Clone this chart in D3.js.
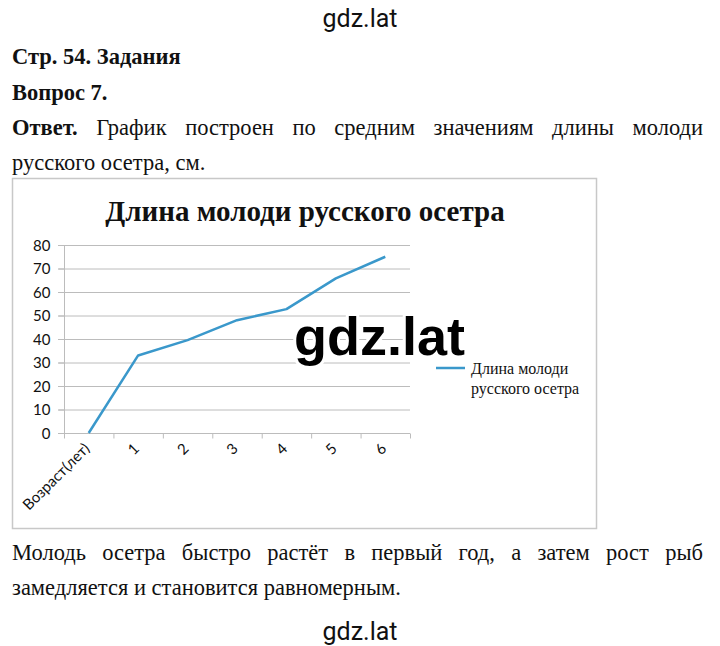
<!DOCTYPE html>
<html><head><meta charset="utf-8">
<script src="https://cdn.jsdelivr.net/npm/d3@7"></script>
<style>body{margin:0;background:#fff}svg{display:block}</style>
</head><body>
<svg id="c" width="720" height="646"></svg>
<script>
const categories = ["Возраст(лет)", "1", "2", "3", "4", "5", "6"];
const lengths = [0, 33, 39.5, 48, 52.7, 65.8, 75];
const yTicks = [0, 10, 20, 30, 40, 50, 60, 70, 80];
const seriesName = ["Длина молоди", "русского осетра"];
const chartTitle = "Длина молоди русского осетра";

const svg = d3.select("#c");
const serif = "'Liberation Serif','Times New Roman',serif";
const sans = "Lato,'Open Sans',sans-serif";
const fs = 22.5;

svg.append("text").attr("x", 360).attr("y", 27).attr("text-anchor", "middle")
  .attr("font-family", "Roboto,'Liberation Sans',sans-serif").attr("font-size", 25).attr("fill", "#111").text("gdz.lat");

svg.append("text").attr("x", 12).attr("y", 64).attr("font-family", serif).attr("font-size", fs).attr("font-weight", "bold").attr("fill", "#111").text("Стр. 54. Задания");
svg.append("text").attr("x", 12).attr("y", 100).attr("font-family", serif).attr("font-size", fs).attr("font-weight", "bold").attr("fill", "#111").text("Вопрос 7.");

function justify(y, words, x0, x1, boldFirst) {
  const g = svg.append("g");
  const nodes = words.map((w, i) => g.append("text").attr("y", y).attr("font-family", serif).attr("font-size", fs)
    .attr("font-weight", (boldFirst && i === 0) ? "bold" : "normal").attr("fill", "#111").text(w));
  const widths = nodes.map(n => n.node().getComputedTextLength());
  const total = d3.sum(widths);
  const gap = (x1 - x0 - total) / (words.length - 1);
  let x = x0;
  nodes.forEach((n, i) => { n.attr("x", x); x += widths[i] + gap; });
}
function plain(y, s) {
  svg.append("text").attr("x", 12).attr("y", y).attr("font-family", serif).attr("font-size", fs).attr("fill", "#111").text(s);
}
justify(135, ["Ответ.", "График", "построен", "по", "средним", "значениям", "длины", "молоди"], 12, 703, true);
plain(170, "русского осетра, см.");
justify(560, ["Молодь", "осетра", "быстро", "растёт", "в", "первый", "год,", "а", "затем", "рост", "рыб"], 12, 703, false);
plain(595, "замедляется и становится равномерным.");

svg.append("text").attr("x", 360).attr("y", 640).attr("text-anchor", "middle")
  .attr("font-family", "Roboto,'Liberation Sans',sans-serif").attr("font-size", 25).attr("fill", "#111").text("gdz.lat");

svg.append("rect").attr("x", 12.5).attr("y", 178.5).attr("width", 584).attr("height", 350)
  .attr("fill", "#fff").attr("stroke", "#c8c8c8").attr("stroke-width", 1.5);

svg.append("text").attr("x", 305).attr("y", 221).attr("text-anchor", "middle")
  .attr("font-family", serif).attr("font-weight", "bold").attr("font-size", 29).attr("fill", "#111").text(chartTitle);

const x = d3.scaleBand().domain(categories).range([64, 410]).padding(0);
const y = d3.scaleLinear().domain([0, 80]).range([433, 245]);
const lineColor = "#3a98cb";

svg.append("g").selectAll("line").data(yTicks).join("line")
  .attr("x1", 58).attr("x2", 410).attr("y1", d => y(d) + 0.5).attr("y2", d => y(d) + 0.5)
  .attr("stroke", "#bcbcbc").attr("stroke-width", 1);

const yAxis = svg.append("g").attr("transform", "translate(64.5,0)")
  .call(d3.axisLeft(y).tickValues(yTicks).tickSize(6).tickPadding(8));
yAxis.select(".domain").attr("stroke", "#bcbcbc").attr("d", `M0,${y(80)}V${y(0)}`);
yAxis.selectAll(".tick line").attr("stroke", "#bcbcbc");
yAxis.selectAll("text").attr("font-family", sans).attr("font-size", 15).attr("fill", "#111").attr("dy", "0.35em");

const xg = svg.append("g").attr("transform", `translate(0,${y(0) + 0.5})`);
xg.append("line").attr("x1", 64).attr("x2", 410).attr("stroke", "#bcbcbc");
const bounds = categories.map(c => x(c)).concat([x.range()[1]]);
xg.selectAll("line.t").data(bounds).join("line").attr("class", "t")
  .attr("x1", d => d + 0.5).attr("x2", d => d + 0.5).attr("y1", 0).attr("y2", 5).attr("stroke", "#bcbcbc");
xg.selectAll("text").data(categories).join("text")
  .attr("transform", d => `translate(${x(d) + x.bandwidth() / 2 + 2},16) rotate(-45)`)
  .attr("text-anchor", "end").attr("font-family", sans).attr("font-size", 15).attr("fill", "#111").text(d => d);

const line = d3.line().x((d, i) => x(categories[i]) + x.bandwidth() / 2).y(d => y(d));
svg.append("path").datum(lengths).attr("d", line).attr("fill", "none")
  .attr("stroke", lineColor).attr("stroke-width", 2.5).attr("stroke-linejoin", "round");

svg.append("line").attr("x1", 436).attr("x2", 465).attr("y1", 368).attr("y2", 368).attr("stroke", lineColor).attr("stroke-width", 2.5);
svg.append("text").attr("font-family", serif).attr("font-size", 16).attr("fill", "#111")
  .selectAll("tspan").data(seriesName).join("tspan").attr("x", 471).attr("y", (d, i) => 374 + i * 20).text(d => d);

svg.append("text").attr("x", 294).attr("y", 355).attr("font-family", "'Liberation Sans',Arial,sans-serif")
  .attr("font-weight", "bold").attr("font-size", 54).attr("fill", "#000")
  .attr("stroke", "#fff").attr("stroke-width", 6).attr("paint-order", "stroke").attr("stroke-linejoin", "round").text("gdz.lat");
</script>
</body></html>
